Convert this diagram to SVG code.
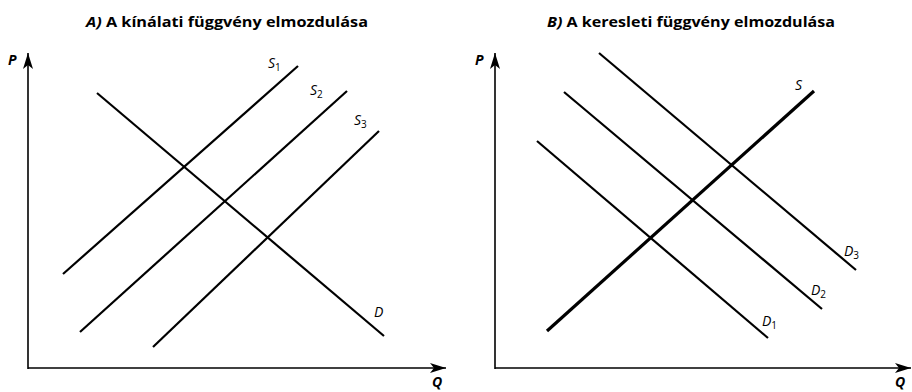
<svg xmlns="http://www.w3.org/2000/svg" width="912" height="392" viewBox="0 0 912 392">
<style>
.title{font-family:"Open Sans","Liberation Sans",Arial,sans-serif;font-weight:bold;font-size:14px;fill:#000}
.ax{stroke:#000;stroke-width:1.6;fill:none}
.crv{stroke:#000;stroke-width:2.2;fill:none}
.thick{stroke:#000;stroke-width:3.2;fill:none}
.lbl{font-family:"Open Sans","Liberation Sans",Arial,sans-serif;font-style:italic;font-size:14px;fill:#000}
.sub{font-size:10px;font-style:normal}
.axl{font-family:"Open Sans","Liberation Sans",Arial,sans-serif;font-style:italic;font-weight:bold;font-size:14px;fill:#000}
</style>
<defs>
<marker id="arr" viewBox="0 0 16 10" refX="16" refY="5" markerWidth="16" markerHeight="10" markerUnits="userSpaceOnUse" orient="auto">
<path d="M0,0 L16,5 L0,10 L4,5 Z" fill="#000"/>
</marker>
</defs>
<rect width="912" height="392" fill="#fff"/>

<g id="panelA">
<text class="title" x="86" y="27" textLength="282" lengthAdjust="spacingAndGlyphs"><tspan font-style="italic">A)</tspan> A kínálati függvény elmozdulása</text>
<g id="axesA">
<path class="ax" d="M28,369 L28,53" marker-end="url(#arr)"/>
<path class="ax" d="M28,368 L446,368" marker-end="url(#arr)"/>
<text class="axl" x="8" y="65">P</text>
<text class="axl" x="432" y="387" font-size="13">Q</text>
</g>
<g id="connectorsA">
<line class="crv" x1="63" y1="274" x2="298" y2="66"/>
<line class="crv" x1="80" y1="332" x2="347" y2="91"/>
<line class="crv" x1="153" y1="347" x2="379" y2="131"/>
<line class="crv" x1="97" y1="93" x2="384" y2="336"/>
</g>
<g id="S1"><text class="lbl" x="268" y="68">S<tspan class="sub" dy="3">1</tspan></text></g>
<g id="S2"><text class="lbl" x="310" y="95">S<tspan class="sub" dy="3">2</tspan></text></g>
<g id="S3"><text class="lbl" x="354" y="125">S<tspan class="sub" dy="3">3</tspan></text></g>
<g id="D"><text class="lbl" x="374" y="317">D</text></g>
</g>

<g id="panelB">
<text class="title" x="547" y="27" textLength="288" lengthAdjust="spacingAndGlyphs"><tspan font-style="italic">B)</tspan> A keresleti függvény elmozdulása</text>
<g id="axesB">
<path class="ax" d="M495,369 L495,53" marker-end="url(#arr)"/>
<path class="ax" d="M495,368 L911,368" marker-end="url(#arr)"/>
<text class="axl" x="475" y="65">P</text>
<text class="axl" x="895" y="387" font-size="13">Q</text>
</g>
<g id="connectorsB">
<line class="thick" x1="547" y1="331" x2="814" y2="91"/>
<line class="crv" x1="537" y1="141" x2="768" y2="338"/>
<line class="crv" x1="564" y1="92" x2="822" y2="309"/>
<line class="crv" x1="599" y1="53" x2="856" y2="270"/>
</g>
<g id="S"><text class="lbl" x="795" y="90">S</text></g>
<g id="D1"><text class="lbl" x="762" y="326">D<tspan class="sub" dy="3">1</tspan></text></g>
<g id="D2"><text class="lbl" x="811" y="295">D<tspan class="sub" dy="3">2</tspan></text></g>
<g id="D3"><text class="lbl" x="844" y="256">D<tspan class="sub" dy="3">3</tspan></text></g>
</g>
</svg>
